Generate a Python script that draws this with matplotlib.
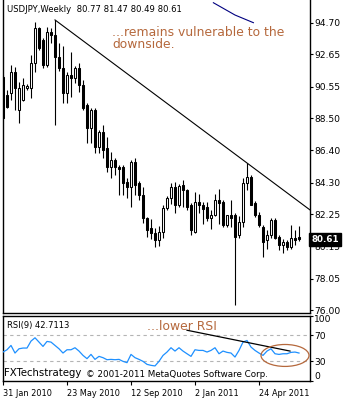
import matplotlib
matplotlib.use("Agg")
import matplotlib.pyplot as plt
from matplotlib.patches import Ellipse
import matplotlib.transforms as mtransforms
import numpy as np

# ---------------- data ----------------
week_labels = ["31 Jan 2010", "23 May 2010", "12 Sep 2010", "2 Jan 2011", "24 Apr 2011"]
week_label_idx = [0, 16, 32, 48, 64]

opens = [91.18, 90.01, 90.14, 91.51, 89.03, 89.68, 90.47, 90.47, 92.09, 94.37,
         93.59, 91.96, 94.11, 93.92, 92.49, 91.77, 90.14, 91.30, 91.10, 91.80,
         90.66, 89.36, 87.86, 89.03, 86.62, 87.60, 86.56, 85.32, 85.78, 85.32,
         85.32, 84.34, 84.00, 85.65, 84.28, 83.49, 81.99, 81.34, 81.00, 80.56,
         81.08, 82.65, 83.30, 84.02, 82.84, 84.15, 83.82, 82.84, 81.08, 83.04,
         82.84, 82.70, 81.99, 82.19, 83.17, 83.04, 81.54, 82.19, 82.19, 80.89,
         81.73, 84.28, 84.67, 82.97, 82.19, 81.41, 80.56, 80.89, 81.86, 80.76,
         80.24, 80.43, 80.11, 80.69, 80.77]
highs = [91.30, 90.34, 91.96, 91.83, 90.86, 91.10, 90.73, 92.60, 94.77, 94.43,
         93.72, 94.43, 94.37, 94.90, 93.40, 93.20, 91.50, 92.80, 91.90, 92.10,
         91.00, 89.50, 89.16, 89.16, 87.75, 88.05, 87.27, 86.30, 85.90, 85.45,
         85.45, 84.60, 85.78, 85.90, 84.40, 84.00, 82.06, 81.90, 81.34, 81.50,
         82.85, 83.45, 84.30, 84.34, 84.20, 84.45, 83.90, 82.97, 83.70, 83.55,
         83.04, 83.04, 82.50, 83.55, 83.90, 83.17, 82.19, 83.17, 82.30, 82.10,
         84.60, 85.58, 84.80, 83.10, 82.40, 81.54, 81.20, 81.97, 81.97, 80.90,
         80.63, 80.56, 81.54, 81.20, 81.47]
lows = [88.45, 89.16, 89.68, 89.03, 88.19, 89.60, 90.34, 89.80, 91.50, 92.94,
        91.77, 91.83, 93.40, 88.05, 91.60, 89.50, 89.50, 89.90, 90.80, 90.20,
        89.00, 86.90, 86.88, 86.23, 86.23, 85.90, 84.99, 84.60, 84.80, 83.49,
        83.49, 83.30, 82.70, 83.50, 83.20, 81.70, 80.76, 80.60, 80.11, 80.20,
        80.70, 82.50, 82.90, 82.32, 82.70, 82.70, 82.50, 80.90, 81.00, 82.30,
        81.60, 81.80, 81.30, 82.10, 81.60, 81.40, 81.40, 81.41, 76.33, 80.70,
        81.40, 83.82, 82.84, 82.06, 81.40, 79.46, 80.00, 80.70, 80.60, 79.90,
        79.70, 79.90, 80.00, 80.24, 80.49]
closes = [88.51, 89.23, 91.51, 90.47, 90.47, 90.66, 90.60, 92.09, 94.37, 93.07,
          91.96, 94.11, 93.92, 92.50, 91.77, 90.14, 91.30, 91.10, 91.80, 90.66,
          89.16, 87.86, 89.03, 86.62, 87.60, 86.43, 85.32, 85.78, 85.32, 85.20,
          84.28, 84.00, 85.65, 84.15, 83.49, 81.99, 81.21, 81.00, 80.56, 81.08,
          82.65, 83.30, 84.02, 82.84, 84.08, 83.82, 82.71, 81.21, 83.04, 82.84,
          82.60, 81.99, 82.19, 83.17, 82.97, 81.54, 82.19, 81.99, 80.76, 81.73,
          84.28, 84.67, 82.84, 82.19, 81.54, 80.43, 80.89, 81.86, 80.69, 80.24,
          80.43, 80.11, 80.69, 80.56, 80.61]
rsi = [44.2, 47.7, 54.3, 42.7, 49.2, 50.3, 50.3, 60.9, 66.0, 59.4,
       52.8, 60.4, 59.4, 54.3, 49.2, 42.7, 47.7, 47.7, 50.8, 45.7,
       39.1, 34.1, 40.6, 33.0, 37.6, 35.6, 32.5, 33.0, 32.5, 33.0,
       30.0, 28.0, 40.6, 35.6, 33.0, 30.0, 25.4, 23.9, 23.0, 30.0,
       39.0, 44.2, 50.8, 45.7, 50.8, 45.7, 41.6, 37.6, 47.7, 46.7,
       46.7, 44.2, 46.7, 50.8, 41.6, 45.7, 43.7, 42.7, 36.6, 46.7,
       59.4, 61.9, 51.8, 46.7, 42.7, 39.1, 45.7, 49.2, 41.6, 40.6,
       41.6, 41.6, 43.7, 44.2, 42.7]

price_ticks = [76.00, 78.05, 80.15, 82.25, 84.30, 86.40, 88.50, 90.55, 92.65, 94.70]
rsi_ticks = [0, 30, 70, 100]
rsi_levels = [30, 70]

trend_anchor_x = [13, 61]
trend_anchor_y = [94.90, 85.58]
blue_line_x = [52.6, 58.0, 62.6]
blue_line_y = [96.02, 95.22, 94.72]
rsi_trend_x = [46.0, 71.75]
rsi_trend_y = [77.5, 45.7]
ellipse_center = (70.5, 39.0)
ellipse_size = (12.0, 33.5)

header = "USDJPY,Weekly  80.77 81.47 80.49 80.61"
note_main = ["...remains vulnerable to the", "downside."]
note_rsi = "...lower RSI"
rsi_title = "RSI(9) 42.7113"
last_price = 80.61

BROWN = "#b5683c"
W, H = 350, 400

def fx(x):
    return x / W

def fy(y):
    return 1 - y / H

fig = plt.figure(figsize=(3.5, 4.0), dpi=100)
fig.patch.set_facecolor("white")

# ---------------- main price panel ----------------
x0, x1 = 2.5, 310.0
ax = fig.add_axes([fx(x0), fy(313), (x1 - x0) / W, 313 / H])
k = np.arange(len(closes))
ax.set_xlim(-0.125, 76.75)
ax.set_ylim(94.70 - 290 / 15.35, 94.70 + 23 / 15.35)

o = np.array(opens); c = np.array(closes)
hi = np.array(highs); lo = np.array(lows)
ax.vlines(k, lo, hi, color="black", lw=0.8, zorder=2)
bull = c >= o
bottoms = np.minimum(o, c)
heights = np.maximum(np.abs(c - o), 0.04)
ax.bar(k[bull], heights[bull], bottom=bottoms[bull], width=0.5,
       facecolor="white", edgecolor="black", lw=0.75, zorder=3)
ax.bar(k[~bull], heights[~bull], bottom=bottoms[~bull], width=0.5,
       facecolor="black", edgecolor="black", lw=0.75, zorder=3)

# trendline from anchors, extended to right edge
slope = (trend_anchor_y[1] - trend_anchor_y[0]) / (trend_anchor_x[1] - trend_anchor_x[0])
xr = ax.get_xlim()[1]
ax.plot([trend_anchor_x[0], xr],
        [trend_anchor_y[0], trend_anchor_y[0] + slope * (xr - trend_anchor_x[0])],
        color="black", lw=0.8, zorder=4, clip_on=True)
ax.plot(blue_line_x, blue_line_y, color="#000080", lw=0.8, zorder=4)

ax.yaxis.tick_right()
ax.set_yticks(price_ticks)
ax.set_yticklabels([f"{v:.2f}" for v in price_ticks])
ax.tick_params(axis="y", direction="out", length=2, width=0.8, pad=1,
               labelsize=6.6, colors="black")
ax.set_xticks([])
ax.spines["top"].set_visible(False)
for s in ["left", "right", "bottom"]:
    ax.spines[s].set_linewidth(1.0)

trans = mtransforms.blended_transform_factory(ax.transAxes, ax.transData)
ax.text(1.004, last_price, f"{last_price:.2f}", transform=trans, color="white",
        fontsize=6.3, fontweight="bold", va="center", ha="left", zorder=10,
        clip_on=False,
        bbox=dict(boxstyle="square,pad=0.25", facecolor="black", edgecolor="black"))

fig.text(fx(7), fy(10), header, fontsize=6.1, va="center", ha="left", color="black")
fig.text(fx(112), fy(36.5), note_main[0], fontsize=8.9, va="baseline", ha="left", color=BROWN)
fig.text(fx(112), fy(48.5), note_main[1], fontsize=8.9, va="baseline", ha="left", color=BROWN)

# ---------------- RSI panel ----------------
ax2 = fig.add_axes([fx(x0), fy(381), (x1 - x0) / W, (381 - 315.5) / H])
ax2.set_xlim(ax.get_xlim())
ax2.set_ylim(0, 100)
for lev in rsi_levels:
    ax2.axhline(lev, color="#b4b4b4", lw=0.8, ls=(0, (3, 3)), zorder=1)
ax2.plot(k, rsi, color="#1e90ff", lw=0.9, zorder=3)
ax2.plot(rsi_trend_x, rsi_trend_y, color="black", lw=0.9, zorder=4)
ax2.add_patch(Ellipse(ellipse_center, ellipse_size[0], ellipse_size[1],
                      facecolor="none", edgecolor=BROWN, lw=0.9, zorder=5))

ax2.yaxis.tick_right()
ax2.set_yticks(rsi_ticks)
ax2.set_yticklabels([str(v) for v in rsi_ticks])
ax2.tick_params(axis="y", direction="out", length=2, width=0.8, pad=1,
                labelsize=6.6, colors="black")
for lab, v in zip(ax2.get_yticklabels(), rsi_ticks):
    if v == 100:
        lab.set_va("top")
    elif v == 0:
        lab.set_va("bottom")

ax2.set_xticks(week_label_idx)
ax2.set_xticklabels(week_labels)
ax2.tick_params(axis="x", direction="out", length=3, width=0.8, pad=2.5,
                labelsize=5.9, colors="black")
for lab in ax2.get_xticklabels():
    lab.set_ha("left")
for s in ax2.spines.values():
    s.set_linewidth(1.0)

fig.text(fx(7), fy(325.5), rsi_title, fontsize=6.05, va="center", ha="left", color="black")
fig.text(fx(147), fy(330), note_rsi, fontsize=8.9, va="baseline", ha="left", color=BROWN)
fig.text(fx(4), fy(376.5), "FXTechstrategy", fontsize=7.3, va="baseline", ha="left", color="black")
fig.text(fx(86), fy(377), "\u00a9 2001-2011 MetaQuotes Software Corp.", fontsize=6.3,
         va="baseline", ha="left", color="black")

fig.savefig("out.png", dpi=100, facecolor="white")
